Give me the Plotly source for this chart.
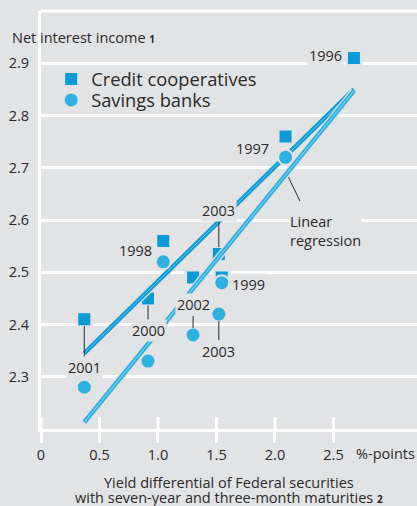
import plotly.graph_objects as go

# net interest income vs. yield differential
years = ["1996", "1997", "1998", "1999", "2000", "2001", "2002", "2003"]
yield_diff = [2.675, 2.09, 1.045, 1.545, 0.915, 0.37, 1.30, 1.52]
credit_coops = [2.91, 2.76, 2.56, 2.49, 2.45, 2.41, 2.49, 2.535]
savings_banks = [2.91, 2.72, 2.52, 2.48, 2.33, 2.28, 2.38, 2.42]

# regression lines (end points as drawn)
reg_x = [0.37, 2.675]
reg_credit = [2.345, 2.85]
reg_savings = [2.213, 2.847]

x_ticks = [0, 0.5, 1.0, 1.5, 2.0, 2.5]
x_ticktext = ["0", "0.5", "1.0", "1.5", "2.0", "2.5"]
y_ticks = [2.3, 2.4, 2.5, 2.6, 2.7, 2.8, 2.9]

BG = "#e2e3e5"
TXT = "#2a2a2a"
BLUE = "#0a9ad6"
CYAN = "#2eb1e1"
FONT = "Open Sans"

fig = go.Figure()

fig.add_trace(go.Scatter(
    x=yield_diff, y=credit_coops, mode="markers", name="Credit cooperatives",
    marker=dict(symbol="square", size=15, color=BLUE, line=dict(color=BG, width=3)),
    legend="legend",
))

# regression lines: gray halo, coloured band, light stripe
for ys, col, stripe in [(reg_credit, BLUE, "#6cc8ef"), (reg_savings, CYAN, "#8fd6f2")]:
    fig.add_trace(go.Scatter(x=reg_x, y=ys, mode="lines", showlegend=False, hoverinfo="skip",
                             line=dict(color=BG, width=7)))
    fig.add_trace(go.Scatter(x=reg_x, y=ys, mode="lines", showlegend=False, hoverinfo="skip",
                             line=dict(color=col, width=4.5)))
    fig.add_trace(go.Scatter(x=reg_x, y=ys, mode="lines", showlegend=False, hoverinfo="skip",
                             line=dict(color=stripe, width=1)))

# 1996 is drawn only as a square in the reference, so skip its circle
fig.add_trace(go.Scatter(
    x=yield_diff[1:], y=savings_banks[1:], mode="markers", name="Savings banks",
    marker=dict(symbol="circle", size=15, color=CYAN, line=dict(color=BG, width=2)),
    legend="legend2",
))

# year labels: (series, year index, dx, dy, leader line)
labels = [
    (credit_coops, 0, -28, -3, False),
    (savings_banks, 1, -33, -9, False),
    (savings_banks, 2, -28, -11, False),
    (savings_banks, 3, 27, 2, False),
    (credit_coops, 4, 0, 32, True),
    (credit_coops, 5, 0, 48, True),
    (savings_banks, 6, 0, -30, True),
    (credit_coops, 7, 0, -43, True),
    (savings_banks, 7, 0, 37, True),
]
annotations = []
for series, i, dx, dy, leader in labels:
    a = dict(x=yield_diff[i], y=series[i], text=years[i], bgcolor=BG, borderpad=1,
             font=dict(family=FONT, size=14.5, color=TXT))
    if leader:
        a.update(showarrow=True, ax=dx, ay=dy, arrowhead=0, arrowwidth=1,
                 arrowcolor=TXT, standoff=7)
    else:
        a.update(showarrow=False, xshift=dx, yshift=-dy)
    annotations.append(a)

# "Linear regression" label and its leader
slope = (reg_savings[1] - reg_savings[0]) / (reg_x[1] - reg_x[0])
tip_x = 2.10
tip_y = reg_savings[0] + slope * (tip_x - reg_x[0])
annotations.append(dict(x=tip_x, y=tip_y, text="", showarrow=True, ax=14, ay=29,
                        arrowhead=0, arrowwidth=1, arrowcolor=TXT, standoff=4))
annotations.append(dict(xref="paper", yref="paper", x=(289 - 41) / 376, y=(429 - 211) / 418,
                        xanchor="left", yanchor="top", align="left", showarrow=False,
                        text="Linear<br>regression", bgcolor=BG, borderpad=0,
                        font=dict(family=FONT, size=14.5, color=TXT)))

annotations += [
    dict(xref="paper", yref="paper", x=-31 / 376, y=(429 - 38) / 418, xanchor="left",
         yanchor="middle", showarrow=False,
         text='Net interest income <span style="font-size:10px"><b>1</b></span>',
         font=dict(family=FONT, size=14.5, color=TXT)),
    dict(xref="paper", yref="paper", x=(354 - 41) / 376, y=(429 - 453) / 418, xanchor="left",
         yanchor="middle", showarrow=False, text="%-points",
         font=dict(family=FONT, size=14.5, color=TXT)),
    dict(xref="paper", yref="paper", x=0.5, y=(429 - 482) / 418, xanchor="center",
         yanchor="middle", showarrow=False, text="Yield differential of Federal securities",
         font=dict(family=FONT, size=14.5, color=TXT)),
    dict(xref="paper", yref="paper", x=0.5, y=(429 - 497) / 418, xanchor="center",
         yanchor="middle", showarrow=False,
         text='with seven-year and three-month maturities <span style="font-size:10px"><b>2</b></span>',
         font=dict(family=FONT, size=14.5, color=TXT)),
]

# top frame line and inner part of the x ticks
shapes = [dict(type="line", xref="paper", yref="paper", x0=0, x1=1, y0=1, y1=1,
               line=dict(color="white", width=3), layer="below")]
for t in x_ticks:
    shapes.append(dict(type="line", xref="x", yref="paper", x0=t, x1=t, y0=0, y1=12 / 418,
                       line=dict(color="white", width=3), layer="below"))

leg_font = dict(family=FONT, size=18.3, color=TXT)
fig.update_layout(
    width=417, height=506,
    margin=dict(l=41, r=0, t=11, b=77),
    paper_bgcolor=BG, plot_bgcolor=BG,
    font=dict(family=FONT, size=14.5, color=TXT),
    showlegend=True,
    legend=dict(x=0.027, y=(429 - 79) / 418, xanchor="left", yanchor="middle",
                bgcolor="rgba(0,0,0,0)", font=leg_font),
    legend2=dict(x=0.027, y=(429 - 100) / 418, xanchor="left", yanchor="middle",
                 bgcolor="rgba(0,0,0,0)", font=leg_font),
    annotations=annotations,
    shapes=shapes,
    xaxis=dict(range=[0, 3.214], tickvals=x_ticks, ticktext=x_ticktext, showgrid=False,
               zeroline=False, showline=True, linecolor="white", linewidth=3,
               ticks="outside", ticklen=11, tickwidth=3, tickcolor="white"),
    yaxis=dict(range=[2.2, 3.0], tickvals=y_ticks, showgrid=True, gridcolor="white",
               gridwidth=3, zeroline=False, showline=True, linecolor="white", linewidth=3,
               ticks="", ticklabelstandoff=6),
)

fig.write_html("out.html", config={"displayModeBar": False},
               post_script="document.body.style.margin='0';")
